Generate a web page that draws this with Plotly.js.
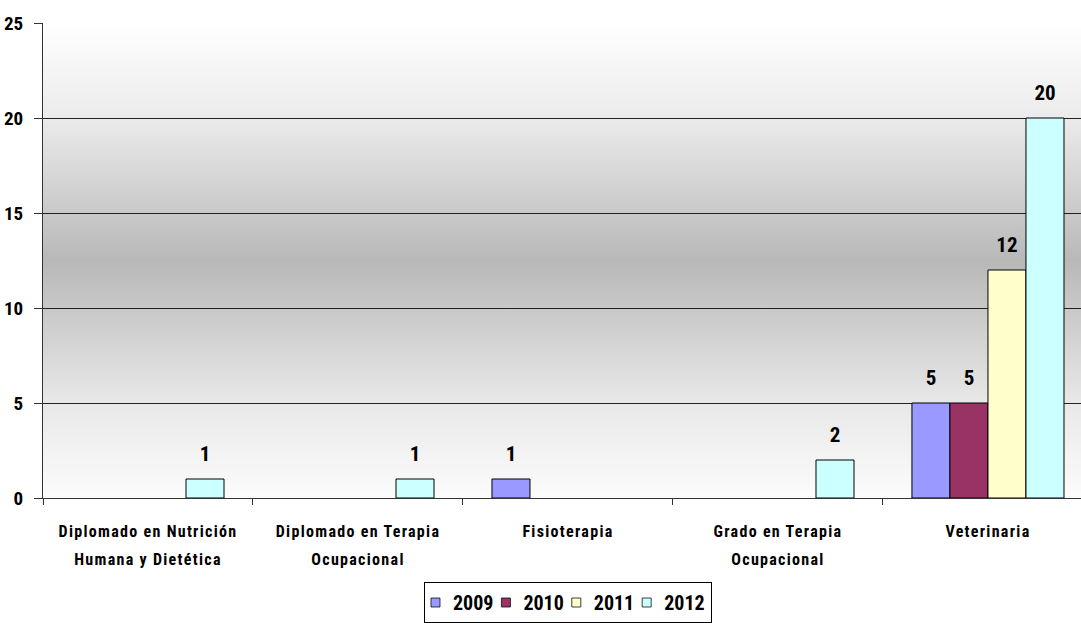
<!DOCTYPE html>
<html>
<head>
<meta charset="utf-8">
<script src="https://cdn.plot.ly/plotly-3.0.1.min.js"></script>
<style>
  html, body { margin: 0; padding: 0; background: #ffffff; }
  #chart { width: 1081px; height: 623px; }
  .xtick text { letter-spacing: 1.3px; }
  .xtick text tspan.line + tspan.line { baseline-shift: -7px; }
  .legend .legendtext { translate: -12px 0px; }
  .legend .legendpoints { translate: -4.5px 0px; }
  .legend .legendpoints path { scale: 0.75; }
  .legend rect.bg { width: 287px; }
</style>
</head>
<body>
<div id="chart"></div>
<script>
const categories = [
  "Diplomado en Nutrición<br>Humana y Dietética",
  "Diplomado en Terapia<br>Ocupacional",
  "Fisioterapia",
  "Grado en Terapia<br>Ocupacional",
  "Veterinaria"
];
const years = ["2009", "2010", "2011", "2012"];
const values2009 = [null, null, 1, null, 5];
const values2010 = [null, null, null, null, 5];
const values2011 = [null, null, null, null, 12];
const values2012 = [1, 1, null, 2, 20];
const yTicks = [0, 5, 10, 15, 20, 25];

const seriesValues = [values2009, values2010, values2011, values2012];
const seriesColors = ["#9999FF", "#993366", "#FFFFCC", "#CCFFFF"];

const FONT = "'Roboto Condensed', 'Open Sans', sans-serif";

const traces = years.map((yr, i) => ({
  type: "bar",
  name: yr,
  x: categories,
  y: seriesValues[i],
  marker: { color: seriesColors[i], line: { color: "#000000", width: 1 } },
  texttemplate: "<span style='font-size:21px'>%{y}</span><br>\u00a0",
  textposition: "outside",
  cliponaxis: false,
  constraintext: "none",
  textfont: { family: FONT, size: 10, color: "#000000", weight: "bold" },
  hoverinfo: "skip"
}));

const gradSvg = "<svg xmlns='http://www.w3.org/2000/svg' width='100' height='100' preserveAspectRatio='none'>" +
  "<defs><linearGradient id='g' x1='0' y1='0' x2='0' y2='1'>" +
  "<stop offset='0' stop-color='#ffffff'/>" +
  "<stop offset='0.2' stop-color='#ebebeb'/>" +
  "<stop offset='0.5' stop-color='#b8b8b8'/>" +
  "<stop offset='0.8' stop-color='#e8e8e8'/>" +
  "<stop offset='1' stop-color='#fcfcfc'/>" +
  "</linearGradient></defs><rect width='100' height='100' fill='url(#g)'/></svg>";

const layout = {
  width: 1081,
  height: 623,
  margin: { l: 43, r: 0, t: 23, b: 122 },
  paper_bgcolor: "#ffffff",
  plot_bgcolor: "rgba(0,0,0,0)",
  barmode: "group",
  bargap: 0.276,
  bargroupgap: 0,
  showlegend: true,
  font: { family: FONT, color: "#000000" },
  images: [{
    source: "data:image/svg+xml;charset=utf-8," + encodeURIComponent(gradSvg),
    xref: "paper", yref: "paper",
    x: 0, y: 1, sizex: 1, sizey: 1,
    xanchor: "left", yanchor: "top",
    sizing: "stretch", layer: "below"
  }],
  xaxis: {
    type: "category",
    range: [-0.5, 4.443],
    showgrid: false,
    showline: true,
    linecolor: "#333333",
    linewidth: 1,
    ticks: "outside",
    tickson: "boundaries",
    ticklen: 6,
    tickcolor: "#333333",
    ticklabelstandoff: 19,
    tickfont: { family: FONT, size: 16, color: "#000000", weight: "bold" },
    zeroline: false,
    fixedrange: true
  },
  yaxis: {
    range: [0, 25],
    tickvals: yTicks,
    ticktext: yTicks.map(String),
    showgrid: true,
    gridcolor: "#222222",
    gridwidth: 1,
    showline: true,
    linecolor: "#333333",
    linewidth: 1,
    ticks: "outside",
    ticklen: 8,
    tickcolor: "#333333",
    ticklabelstandoff: 7,
    tickfont: { family: FONT, size: 19, color: "#000000", weight: "bold" },
    zeroline: false,
    fixedrange: true
  },
  legend: {
    orientation: "h",
    x: 0.36705,
    xanchor: "left",
    y: -0.1778,
    yanchor: "top",
    bgcolor: "#ffffff",
    bordercolor: "#000000",
    borderwidth: 1,
    entrywidth: 25.4,
    entrywidthmode: "pixels",
    font: { family: FONT, size: 20, color: "#000000", weight: "bold" },
    traceorder: "normal"
  }
};

Plotly.newPlot("chart", traces, layout, { displayModeBar: false, staticPlot: true });
</script>
</body>
</html>
